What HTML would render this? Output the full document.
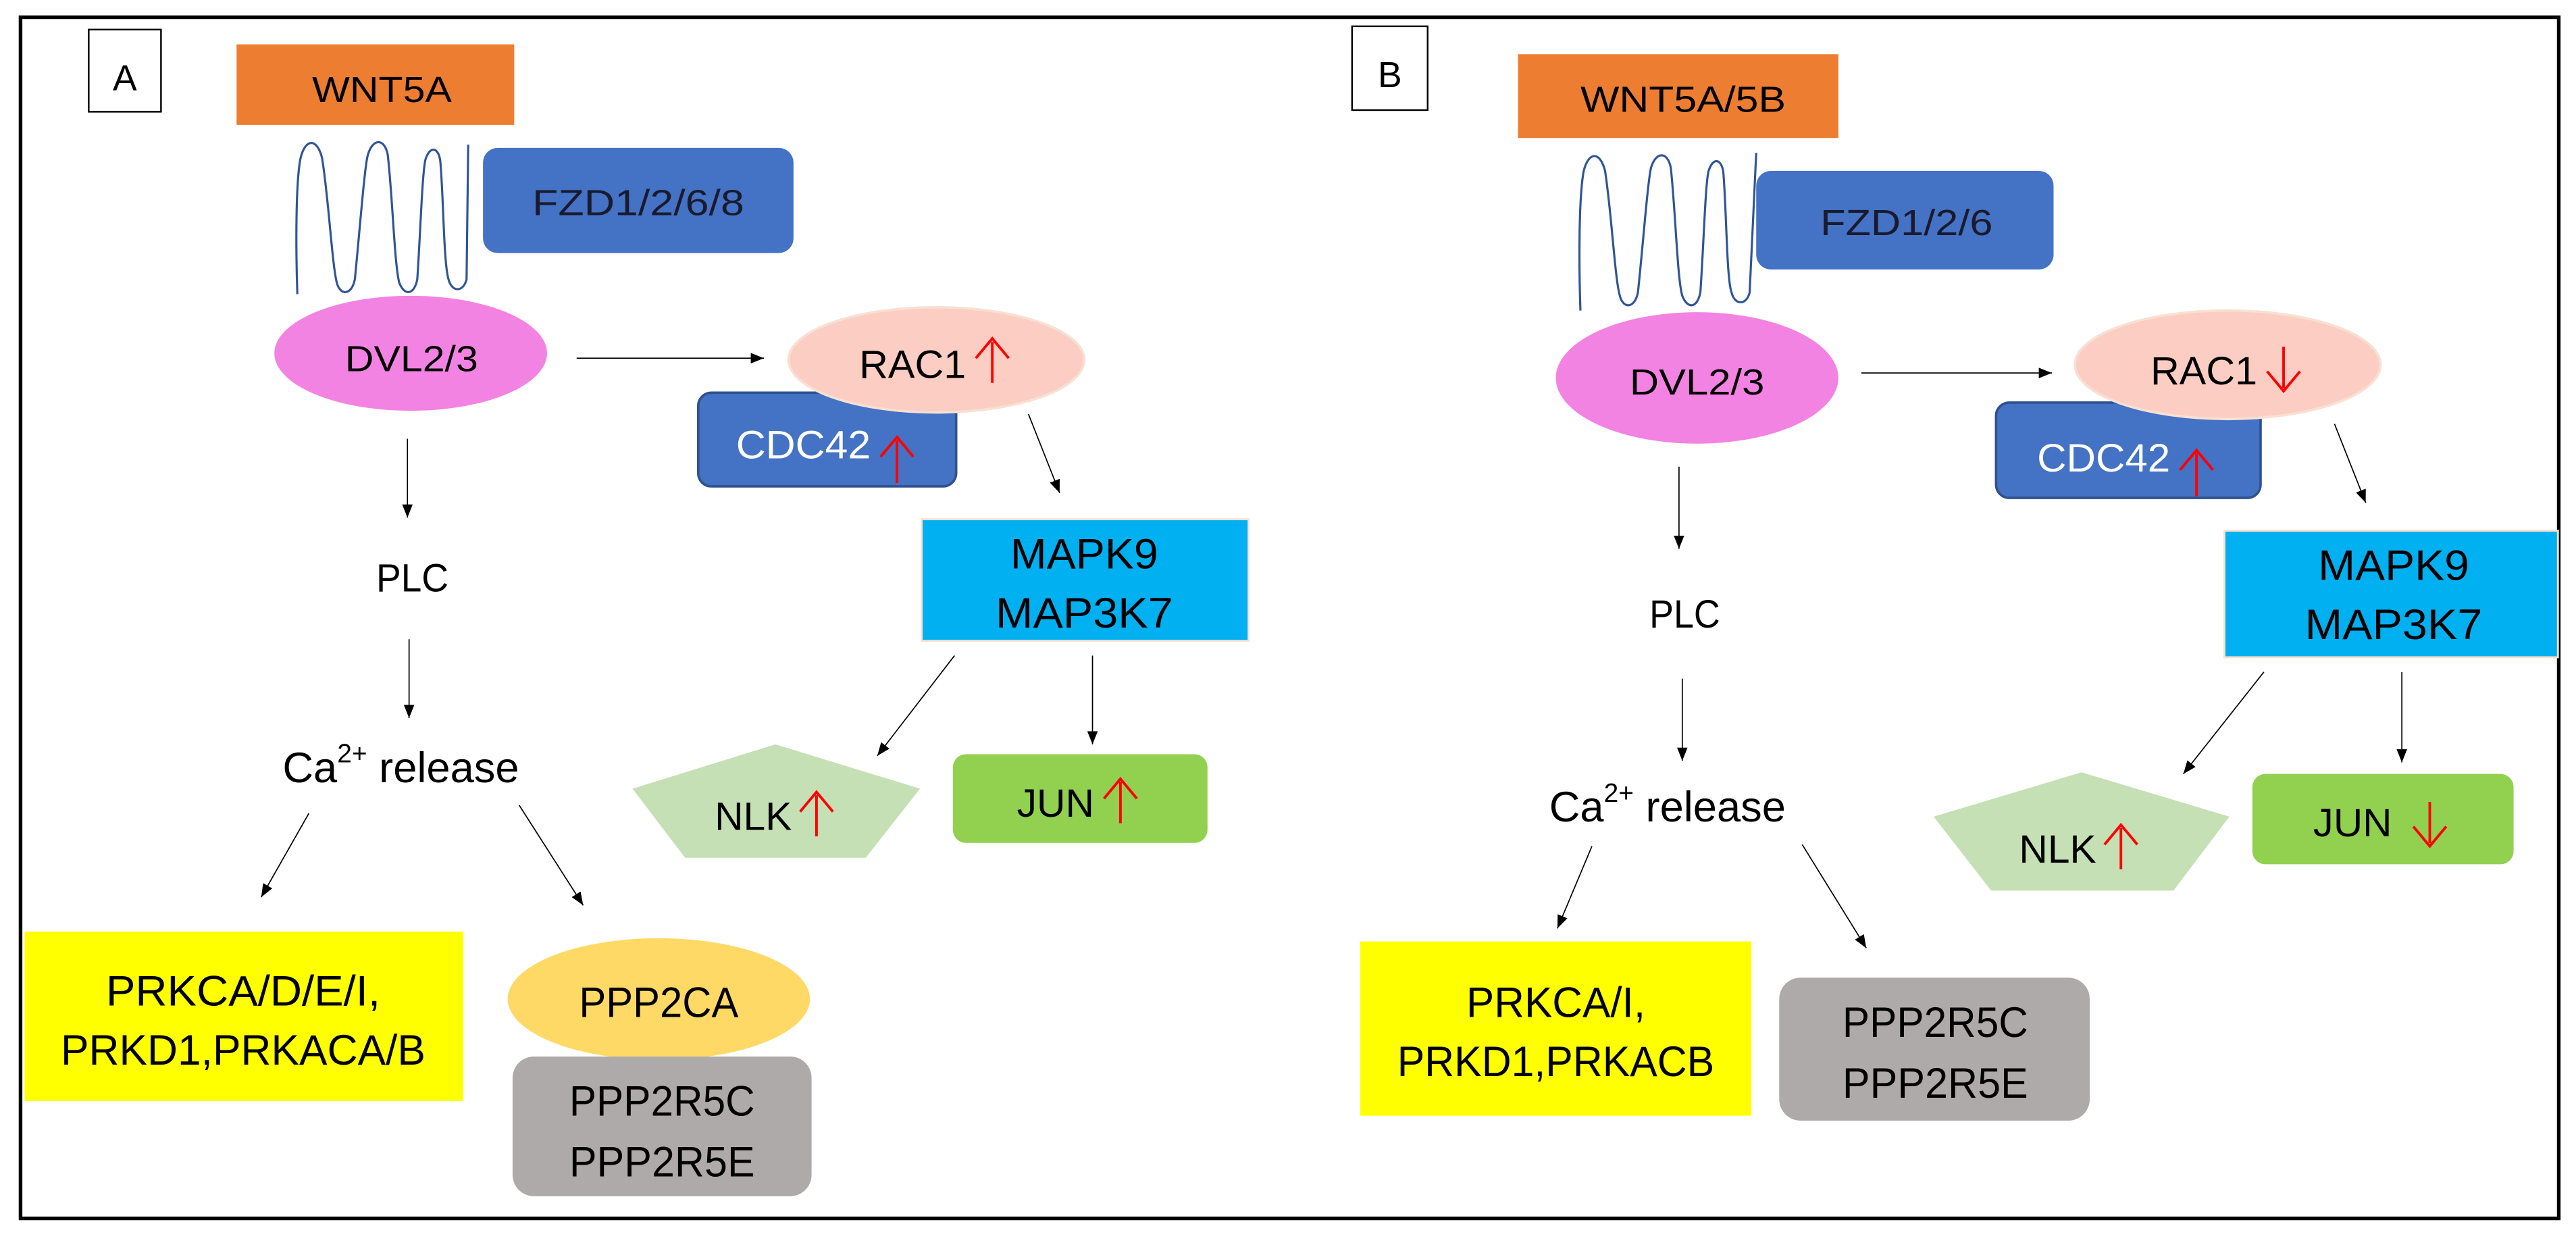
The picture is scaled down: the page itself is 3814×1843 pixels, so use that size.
<!DOCTYPE html>
<html><head><meta charset="utf-8"><style>html,body{margin:0;padding:0;background:#fff}svg{display:block}</style></head>
<body>
<svg width="3814" height="1843" viewBox="0 0 1568 757.7" preserveAspectRatio="none" xmlns="http://www.w3.org/2000/svg" font-family="Liberation Sans, sans-serif">
<defs>
<marker id="ah" viewBox="0 0 10 8" refX="10" refY="4" markerWidth="8" markerHeight="6.4" markerUnits="userSpaceOnUse" orient="auto"><path d="M0,0 L10,4 L0,8 z" fill="#000"/></marker>
</defs>
<rect x="12.5" y="10.5" width="1545" height="731" fill="none" stroke="#000" stroke-width="2.2"/>

<g id="A">
<rect x="54" y="18" width="44" height="50" fill="none" stroke="#000" stroke-width="1"/>
<text x="76" y="55" font-size="22" text-anchor="middle">A</text>
<rect x="144" y="27" width="169" height="49" fill="#ED7D31"/>
<text x="190" y="62" font-size="22" textLength="85" lengthAdjust="spacingAndGlyphs">WNT5A</text>
<path d="M181,179 C180,150 180,110 183,96 C186,84 193,84 196,96 C200,120 202,160 205,172 C207,180 214,180 216,170 C219,140 222,100 224,94 C227,84 234,84 236,94 C239,120 240,160 243,172 C246,180 252,180 254,170 C256,140 257,105 259,97 C262,88 267,90 268,98 C270,120 270,160 273,170 C275,178 282,178 284,170 L285,88" fill="none" stroke="#2F5597" stroke-width="1.3"/>
<rect x="294" y="90" width="189" height="64" rx="9" fill="#4472C4"/>
<text x="324" y="131" font-size="22" fill="#1a1a2e" textLength="129" lengthAdjust="spacingAndGlyphs">FZD1/2/6/8</text>
<ellipse cx="250" cy="215" rx="83" ry="35" fill="#F383E3"/>
<text x="210" y="226" font-size="22" textLength="81" lengthAdjust="spacingAndGlyphs">DVL2/3</text>
<line x1="351" y1="218" x2="465" y2="218" stroke="#000" stroke-width="0.7" marker-end="url(#ah)"/>
<rect x="425" y="239" width="157" height="57" rx="8" fill="#4472C4" stroke="#2F528F" stroke-width="1.5"/>
<ellipse cx="570" cy="219" rx="90" ry="32" fill="#FBCDC3" stroke="#F8E0D2" stroke-width="1.5"/>
<text x="523" y="230" font-size="24" textLength="65" lengthAdjust="spacingAndGlyphs">RAC1</text>
<path d="M604,233 V208 M594,218 L604,206 L614,218" fill="none" stroke="#f00" stroke-width="1.6"/>
<text x="448" y="279" font-size="24" fill="#fff" textLength="82" lengthAdjust="spacingAndGlyphs">CDC42</text>
<path d="M546,294 V268 M536,278 L546,266 L556,278" fill="none" stroke="#f00" stroke-width="1.6"/>
<line x1="626" y1="252" x2="645" y2="300" stroke="#000" stroke-width="0.7" marker-end="url(#ah)"/>
<rect x="561" y="316" width="199" height="74" fill="#00B0F0" stroke="#F8E0D2" stroke-width="1.2"/>
<text x="660" y="346" font-size="26" text-anchor="middle" textLength="90" lengthAdjust="spacingAndGlyphs">MAPK9</text>
<text x="660" y="382" font-size="26" text-anchor="middle" textLength="108" lengthAdjust="spacingAndGlyphs">MAP3K7</text>
<line x1="581" y1="399" x2="534" y2="460" stroke="#000" stroke-width="0.7" marker-end="url(#ah)"/>
<line x1="665" y1="399" x2="665" y2="453" stroke="#000" stroke-width="0.7" marker-end="url(#ah)"/>
<polygon points="472,453 560,480 527,522 417,522 385,480" fill="#C5E0B4"/>
<text x="435" y="505" font-size="24" textLength="47" lengthAdjust="spacingAndGlyphs">NLK</text>
<path d="M497,509 V484 M487,494 L497,482 L507,494" fill="none" stroke="#f00" stroke-width="1.6"/>
<rect x="580" y="459" width="155" height="54" rx="8" fill="#92D050"/>
<text x="619" y="497" font-size="24" textLength="47" lengthAdjust="spacingAndGlyphs">JUN</text>
<path d="M682,501 V476 M672,486 L682,474 L692,486" fill="none" stroke="#f00" stroke-width="1.6"/>
<line x1="248" y1="267" x2="248" y2="315" stroke="#000" stroke-width="0.7" marker-end="url(#ah)"/>
<text x="229" y="360" font-size="24" textLength="44" lengthAdjust="spacingAndGlyphs">PLC</text>
<line x1="249" y1="389" x2="249" y2="437" stroke="#000" stroke-width="0.7" marker-end="url(#ah)"/>
<text x="172" y="476" font-size="26">Ca<tspan font-size="16" dy="-12">2+</tspan><tspan dy="12"> release</tspan></text>
<line x1="188" y1="495" x2="159" y2="546" stroke="#000" stroke-width="0.7" marker-end="url(#ah)"/>
<line x1="316" y1="490" x2="355" y2="551" stroke="#000" stroke-width="0.7" marker-end="url(#ah)"/>
<rect x="15" y="567" width="267" height="103" fill="#FFFF00"/>
<text x="148" y="612" font-size="26" text-anchor="middle" textLength="167" lengthAdjust="spacingAndGlyphs">PRKCA/D/E/I,</text>
<text x="148" y="648" font-size="26" text-anchor="middle" textLength="222" lengthAdjust="spacingAndGlyphs">PRKD1,PRKACA/B</text>
<ellipse cx="401" cy="608" rx="92" ry="37" fill="#FFD966"/>
<rect x="312" y="643" width="182" height="85" rx="13" fill="#AEAAAA"/>
<text x="401" y="619" font-size="26" text-anchor="middle" textLength="97" lengthAdjust="spacingAndGlyphs">PPP2CA</text>
<text x="403" y="679" font-size="26" text-anchor="middle" textLength="113" lengthAdjust="spacingAndGlyphs">PPP2R5C</text>
<text x="403" y="716" font-size="26" text-anchor="middle" textLength="113" lengthAdjust="spacingAndGlyphs">PPP2R5E</text>
</g>

<g id="B">
<rect x="823" y="16" width="46" height="51" fill="none" stroke="#000" stroke-width="1"/>
<text x="846" y="53" font-size="22" text-anchor="middle">B</text>
<rect x="924" y="33" width="195" height="51" fill="#ED7D31"/>
<text x="962" y="68" font-size="22" textLength="125" lengthAdjust="spacingAndGlyphs">WNT5A/5B</text>
<path d="M962,189 C961,160 961,120 964,104 C967,92 974,92 977,104 C981,130 983,170 986,180 C988,188 995,188 997,178 C1000,150 1003,110 1005,102 C1008,92 1015,92 1017,102 C1020,130 1021,170 1024,180 C1027,188 1033,188 1035,178 C1037,150 1038,112 1040,104 C1043,95 1048,97 1049,105 C1051,130 1051,170 1054,178 C1056,186 1063,186 1065,178 L1069,93" fill="none" stroke="#2F5597" stroke-width="1.3"/>
<rect x="1069" y="104" width="181" height="60" rx="9" fill="#4472C4"/>
<text x="1108" y="143" font-size="22" fill="#1a1a2e" textLength="105" lengthAdjust="spacingAndGlyphs">FZD1/2/6</text>
<ellipse cx="1033" cy="230" rx="86" ry="40" fill="#F383E3"/>
<text x="992" y="240" font-size="22" textLength="82" lengthAdjust="spacingAndGlyphs">DVL2/3</text>
<line x1="1133" y1="227" x2="1249" y2="227" stroke="#000" stroke-width="0.7" marker-end="url(#ah)"/>
<rect x="1215" y="245" width="161" height="58" rx="8" fill="#4472C4" stroke="#2F528F" stroke-width="1.5"/>
<ellipse cx="1356" cy="222" rx="93" ry="33" fill="#FBCDC3" stroke="#F8E0D2" stroke-width="1.5"/>
<text x="1309" y="234" font-size="24" textLength="65" lengthAdjust="spacingAndGlyphs">RAC1</text>
<path d="M1390,211 V236 M1380,226 L1390,238 L1400,226" fill="none" stroke="#f00" stroke-width="1.6"/>
<text x="1240" y="287" font-size="24" fill="#fff" textLength="81" lengthAdjust="spacingAndGlyphs">CDC42</text>
<path d="M1337,302 V276 M1327,286 L1337,274 L1347,286" fill="none" stroke="#f00" stroke-width="1.6"/>
<line x1="1421" y1="258" x2="1440" y2="306" stroke="#000" stroke-width="0.7" marker-end="url(#ah)"/>
<rect x="1354" y="323" width="203" height="77" fill="#00B0F0" stroke="#F8E0D2" stroke-width="1.2"/>
<text x="1457" y="353" font-size="26" text-anchor="middle" textLength="92" lengthAdjust="spacingAndGlyphs">MAPK9</text>
<text x="1457" y="389" font-size="26" text-anchor="middle" textLength="108" lengthAdjust="spacingAndGlyphs">MAP3K7</text>
<line x1="1378" y1="409" x2="1329" y2="471" stroke="#000" stroke-width="0.7" marker-end="url(#ah)"/>
<line x1="1462" y1="409" x2="1462" y2="464" stroke="#000" stroke-width="0.7" marker-end="url(#ah)"/>
<polygon points="1267,470 1357,497 1323,542 1212,542 1177,497" fill="#C5E0B4"/>
<text x="1229" y="525" font-size="24" textLength="47" lengthAdjust="spacingAndGlyphs">NLK</text>
<path d="M1291,529 V504 M1281,514 L1291,502 L1301,514" fill="none" stroke="#f00" stroke-width="1.6"/>
<rect x="1371" y="471" width="159" height="55" rx="8" fill="#92D050"/>
<text x="1408" y="509" font-size="24" textLength="48" lengthAdjust="spacingAndGlyphs">JUN</text>
<path d="M1479,488 V513 M1469,503 L1479,515 L1489,503" fill="none" stroke="#f00" stroke-width="1.6"/>
<line x1="1022" y1="284" x2="1022" y2="334" stroke="#000" stroke-width="0.7" marker-end="url(#ah)"/>
<text x="1004" y="382" font-size="24" textLength="43" lengthAdjust="spacingAndGlyphs">PLC</text>
<line x1="1024" y1="413" x2="1024" y2="463" stroke="#000" stroke-width="0.7" marker-end="url(#ah)"/>
<text x="943" y="500" font-size="26">Ca<tspan font-size="16" dy="-12">2+</tspan><tspan dy="12"> release</tspan></text>
<line x1="969" y1="515" x2="948" y2="565" stroke="#000" stroke-width="0.7" marker-end="url(#ah)"/>
<line x1="1097" y1="514" x2="1136" y2="577" stroke="#000" stroke-width="0.7" marker-end="url(#ah)"/>
<rect x="828" y="573" width="238" height="106" fill="#FFFF00"/>
<text x="947" y="619" font-size="26" text-anchor="middle" textLength="109" lengthAdjust="spacingAndGlyphs">PRKCA/I,</text>
<text x="947" y="655" font-size="26" text-anchor="middle" textLength="193" lengthAdjust="spacingAndGlyphs">PRKD1,PRKACB</text>
<rect x="1083" y="595" width="189" height="87" rx="13" fill="#AEAAAA"/>
<text x="1178" y="631" font-size="26" text-anchor="middle" textLength="113" lengthAdjust="spacingAndGlyphs">PPP2R5C</text>
<text x="1178" y="668" font-size="26" text-anchor="middle" textLength="113" lengthAdjust="spacingAndGlyphs">PPP2R5E</text>
</g>
</svg>
</body></html>
